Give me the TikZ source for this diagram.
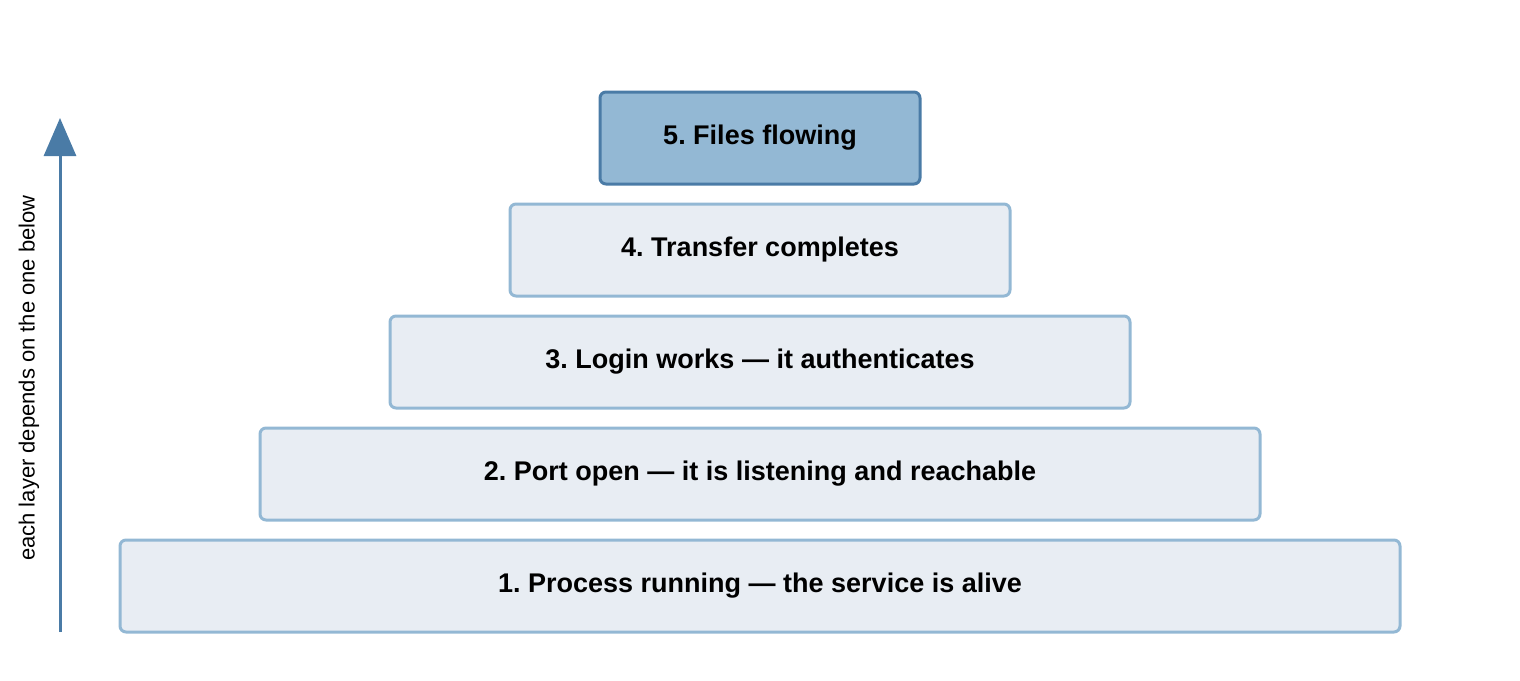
\documentclass[tikz,border=0pt]{standalone}
\usepackage{fontspec}
\setmainfont{Liberation Sans}
\usetikzlibrary{arrows.meta}
\definecolor{edgeblue}{HTML}{93B8D4}
\definecolor{darkblue}{HTML}{4A7BA6}
\definecolor{paleblue}{HTML}{E8EDF3}
\frenchspacing
\tikzset{
  layer/.style={draw=edgeblue, fill=paleblue, line width=1.5pt, rounded corners=3pt,
    minimum height=46pt, font=\fontsize{13.5}{16}\selectfont\bfseries, inner sep=0pt},
  toplayer/.style={layer, draw=darkblue, fill=edgeblue}
}
\begin{document}
\begin{tikzpicture}[x=0.5pt, y=-0.5pt]
\useasboundingbox (0,0) rectangle (1520,680);

\node [toplayer, minimum width=160pt] (files) at (760,138) {5. Files flowing};
\node [layer, minimum width=250pt] (transfer) at (760,250) {4. Transfer completes};
\node [layer, minimum width=370pt] (login) at (760,362) {3. Login works — it authenticates};
\node [layer, minimum width=500pt] (port) at (760,474) {2. Port open — it is listening and reachable};
\node [layer, minimum width=640pt] (process) at (760,586) {1. Process running — the service is alive};

\coordinate (base) at (60,632);
\coordinate (tip) at (60,118);
\draw [-{Triangle[length=19pt, width=16pt]}, draw=darkblue, fill=darkblue, line width=1.5pt] (base) -- (tip);
\node [rotate=90, font=\fontsize{11}{13}\selectfont] (dep) at (29,378) {each layer depends on the one below};
\end{tikzpicture}
\end{document}
